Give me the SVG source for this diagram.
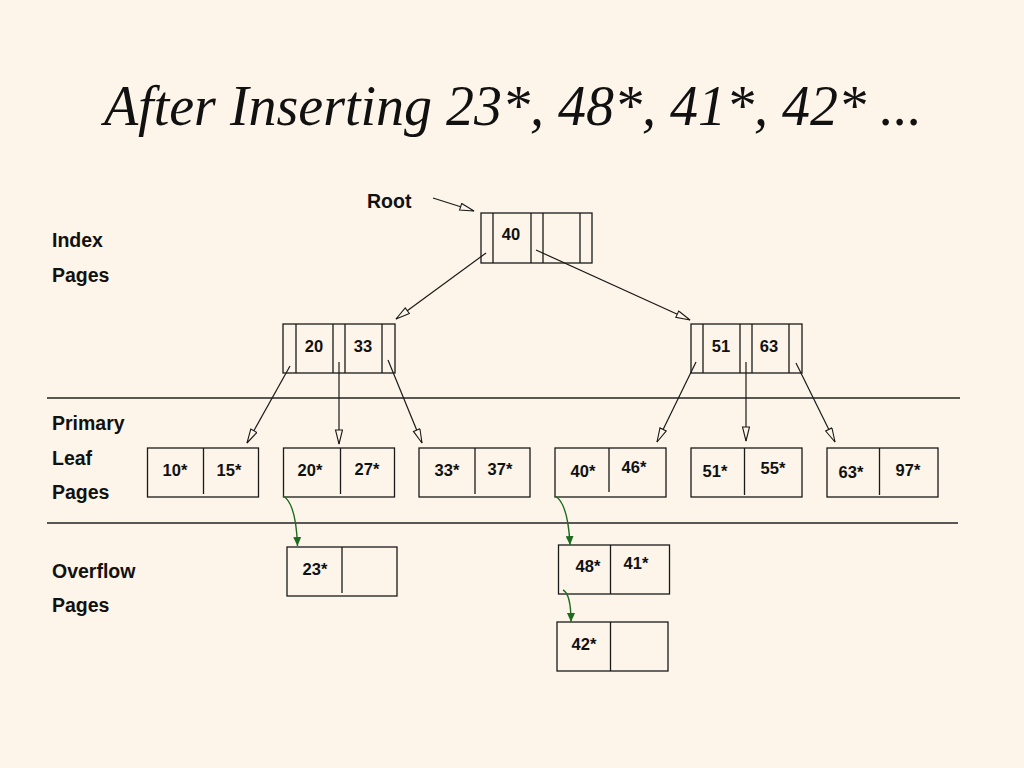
<svg xmlns="http://www.w3.org/2000/svg" width="1024" height="768" viewBox="0 0 1024 768">
<defs>
<style>
.bx{fill:none;stroke:#1a1a1a;stroke-width:1.3}
.dv{stroke:#1a1a1a;stroke-width:1.3}
.t{font-family:"Liberation Sans",Arial,sans-serif;font-weight:bold;font-size:16.5px;fill:#111;text-anchor:middle}
.lb{font-family:"Liberation Sans",Arial,sans-serif;font-weight:bold;font-size:19.5px;fill:#111}
.ln{stroke:#1a1a1a;stroke-width:1.2;fill:none;marker-end:url(#oa)}
.gn{stroke:#1e6b1e;stroke-width:1.4;fill:none;marker-end:url(#ga)}
.sep{stroke:#222;stroke-width:1.3}
</style>
<marker id="oa" markerUnits="userSpaceOnUse" markerWidth="16" markerHeight="10" refX="15" refY="4" orient="auto">
<path d="M1,0.5 L15,4 L1,7.5 Z" fill="#fdf5e9" stroke="#1a1a1a" stroke-width="1.1"/>
</marker>
<marker id="ga" markerUnits="userSpaceOnUse" markerWidth="10" markerHeight="8" refX="9" refY="4" orient="auto">
<path d="M0,0 L9,4 L0,8 Z" fill="#1e6b1e"/>
</marker>
</defs>
<rect width="1024" height="768" fill="#fdf5e9"/>
<text x="513" y="125" font-family="'Liberation Serif','Times New Roman',serif" font-style="italic" font-size="56" text-anchor="middle" fill="#111">After Inserting 23*, 48*, 41*, 42* ...</text>

<g id="labels">
<text class="lb" x="367" y="208">Root</text>
<text class="lb" x="52" y="247">Index</text>
<text class="lb" x="52" y="282">Pages</text>
<text class="lb" x="52" y="430">Primary</text>
<text class="lb" x="52" y="465">Leaf</text>
<text class="lb" x="52" y="499">Pages</text>
<text class="lb" x="52" y="578">Overflow</text>
<text class="lb" x="52" y="612">Pages</text>
</g>

<g id="separators">
<line class="sep" x1="47" y1="398" x2="960" y2="398"/>
<line class="sep" x1="47" y1="523" x2="958" y2="523"/>
</g>

<g id="root">
<rect class="bx" x="481" y="213" width="111" height="50"/>
<line class="dv" x1="493" y1="213" x2="493" y2="263"/>
<line class="dv" x1="531" y1="213" x2="531" y2="263"/>
<line class="dv" x1="543" y1="213" x2="543" y2="263"/>
<line class="dv" x1="580" y1="213" x2="580" y2="263"/>
<text class="t" x="511" y="240">40</text>
</g>

<g id="idx-left">
<rect class="bx" x="283" y="324" width="112" height="49"/>
<line class="dv" x1="296" y1="324" x2="296" y2="373"/>
<line class="dv" x1="333" y1="324" x2="333" y2="373"/>
<line class="dv" x1="345" y1="324" x2="345" y2="373"/>
<line class="dv" x1="382" y1="324" x2="382" y2="373"/>
<text class="t" x="314" y="352">20</text>
<text class="t" x="363" y="352">33</text>
</g>

<g id="idx-right">
<rect class="bx" x="691" y="324" width="111" height="49"/>
<line class="dv" x1="703" y1="324" x2="703" y2="373"/>
<line class="dv" x1="740" y1="324" x2="740" y2="373"/>
<line class="dv" x1="752" y1="324" x2="752" y2="373"/>
<line class="dv" x1="789" y1="324" x2="789" y2="373"/>
<text class="t" x="721" y="352">51</text>
<text class="t" x="769" y="352">63</text>
</g>

<g id="leaf1">
<rect class="bx" x="147.5" y="448" width="111" height="49"/>
<line class="dv" x1="203.5" y1="448" x2="203.5" y2="494"/>
<text class="t" x="175" y="476">10*</text>
<text class="t" x="229" y="476">15*</text>
</g>
<g id="leaf2">
<rect class="bx" x="283.5" y="448" width="111" height="49"/>
<line class="dv" x1="340.5" y1="448" x2="340.5" y2="494"/>
<text class="t" x="310" y="476">20*</text>
<text class="t" x="367" y="475">27*</text>
</g>
<g id="leaf3">
<rect class="bx" x="419" y="448" width="111" height="49"/>
<line class="dv" x1="475" y1="448" x2="475" y2="494"/>
<text class="t" x="447" y="476">33*</text>
<text class="t" x="500" y="475">37*</text>
</g>
<g id="leaf4">
<rect class="bx" x="555" y="448" width="111" height="49"/>
<line class="dv" x1="609" y1="448" x2="609" y2="492"/>
<text class="t" x="583" y="477">40*</text>
<text class="t" x="634" y="473">46*</text>
</g>
<g id="leaf5">
<rect class="bx" x="691" y="448" width="111" height="49"/>
<line class="dv" x1="744.5" y1="448" x2="744.5" y2="495"/>
<text class="t" x="715" y="477">51*</text>
<text class="t" x="773" y="474">55*</text>
</g>
<g id="leaf6">
<rect class="bx" x="827" y="448" width="111" height="49"/>
<line class="dv" x1="879.5" y1="448" x2="879.5" y2="495"/>
<text class="t" x="851" y="478">63*</text>
<text class="t" x="908" y="476">97*</text>
</g>

<g id="ovf1">
<rect class="bx" x="287" y="547" width="110" height="49"/>
<line class="dv" x1="342" y1="547" x2="342" y2="593"/>
<text class="t" x="315" y="575">23*</text>
</g>
<g id="ovf2">
<rect class="bx" x="558.5" y="545" width="111" height="49"/>
<line class="dv" x1="610.5" y1="545" x2="610.5" y2="594"/>
<text class="t" x="588" y="572">48*</text>
<text class="t" x="636" y="569">41*</text>
</g>
<g id="ovf3">
<rect class="bx" x="557" y="622" width="111" height="49"/>
<line class="dv" x1="610.5" y1="622" x2="610.5" y2="671"/>
<text class="t" x="584" y="650">42*</text>
</g>

<g id="connectors">
<line class="ln" x1="433" y1="198" x2="474" y2="211"/>
<line class="ln" x1="486" y1="253" x2="396" y2="319"/>
<line class="ln" x1="536" y1="250" x2="690" y2="320"/>
<line class="ln" x1="290" y1="366" x2="247" y2="443"/>
<line class="ln" x1="339" y1="362" x2="339" y2="444"/>
<line class="ln" x1="388" y1="360" x2="422" y2="443"/>
<line class="ln" x1="696" y1="362" x2="657" y2="442"/>
<line class="ln" x1="746" y1="362" x2="746" y2="441"/>
<line class="ln" x1="796" y1="363" x2="835" y2="442"/>
<path class="gn" d="M283,496 Q296,503 297.5,546"/>
<path class="gn" d="M555,496 Q568,503 570,545"/>
<path class="gn" d="M563,590 Q571,594 571,622"/>
</g>
</svg>
